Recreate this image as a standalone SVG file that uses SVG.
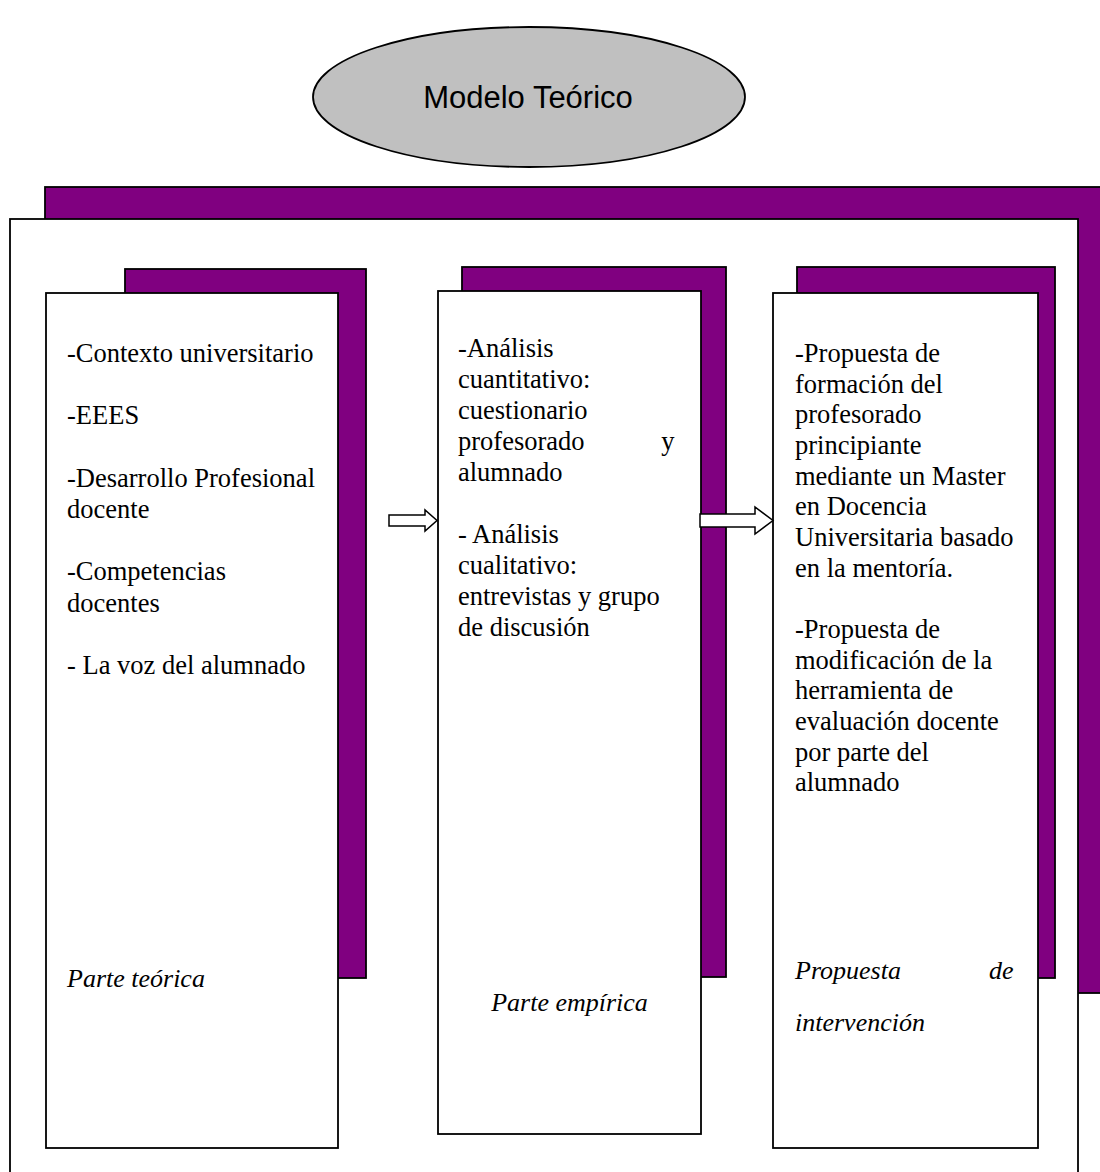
<svg xmlns="http://www.w3.org/2000/svg" width="1100" height="1172" viewBox="0 0 1100 1172">
  <style>
    .shadow { fill: #800080; stroke: #000; stroke-width: 1.8; }
    .card { fill: #fff; stroke: #000; stroke-width: 1.8; }
    .body { font-family: "Liberation Serif", "Times New Roman", serif; font-size: 26.5px; fill: #000; }
    .label { font-family: "Liberation Serif", "Times New Roman", serif; font-size: 26px; font-style: italic; fill: #000; }
    .title { font-family: "Liberation Sans", Arial, sans-serif; font-size: 31px; fill: #000; }
    .arrow { fill: #fff; stroke: #000; stroke-width: 1.5; stroke-linejoin: miter; }
  </style>

  <rect width="1100" height="1172" fill="#fff"/>

  <!-- Title ellipse -->
  <g id="modelo-teorico">
    <ellipse cx="529" cy="97" rx="216" ry="70" fill="#c0c0c0" stroke="#000" stroke-width="1.8"/>
    <text class="title" x="528" y="108" text-anchor="middle">Modelo Teórico</text>
  </g>

  <!-- Outer frame with purple offset backing -->
  <g id="marco">
    <rect class="shadow" x="45" y="187" width="1080" height="806"/>
    <rect class="card" x="10" y="219" width="1068" height="980"/>
  </g>

  <!-- Column 1: theoretical part -->
  <g id="parte-teorica">
    <rect class="shadow" x="125" y="269" width="241" height="709"/>
    <rect class="card" x="46" y="293" width="292" height="855"/>
    <text class="body">
      <tspan x="67" y="362">-Contexto universitario</tspan>
      <tspan x="67" y="424.4">-EEES</tspan>
      <tspan x="67" y="486.8">-Desarrollo Profesional</tspan>
      <tspan x="67" y="518">docente</tspan>
      <tspan x="67" y="580.4">-Competencias</tspan>
      <tspan x="67" y="611.6">docentes</tspan>
      <tspan x="67" y="674">- La voz del alumnado</tspan>
    </text>
    <text class="label" x="67" y="987">Parte teórica</text>
  </g>

  <!-- Column 2: empirical part -->
  <g id="parte-empirica">
    <rect class="shadow" x="462" y="267" width="264" height="710"/>
    <rect class="card" x="438" y="291" width="263" height="843"/>
    <text class="body">
      <tspan x="458" y="357">-Análisis</tspan>
      <tspan x="458" y="388">cuantitativo:</tspan>
      <tspan x="458" y="419">cuestionario</tspan>
      <tspan x="458" y="450">profesorado</tspan>
      <tspan x="681" y="450" text-anchor="end">y</tspan>
      <tspan x="458" y="481">alumnado</tspan>
      <tspan x="458" y="543">- Análisis</tspan>
      <tspan x="458" y="574">cualitativo:</tspan>
      <tspan x="458" y="605">entrevistas y grupo</tspan>
      <tspan x="458" y="636">de discusión</tspan>
    </text>
    <text class="label" x="569.5" y="1011" text-anchor="middle">Parte empírica</text>
  </g>

  <!-- Column 3: intervention proposal -->
  <g id="propuesta-intervencion">
    <rect class="shadow" x="797" y="267" width="258" height="711"/>
    <rect class="card" x="773" y="293" width="265" height="855"/>
    <text class="body">
      <tspan x="795" y="362">-Propuesta de</tspan>
      <tspan x="795" y="392.7">formación del</tspan>
      <tspan x="795" y="423.3">profesorado</tspan>
      <tspan x="795" y="454">principiante</tspan>
      <tspan x="795" y="484.6">mediante un Master</tspan>
      <tspan x="795" y="515.3">en Docencia</tspan>
      <tspan x="795" y="546">Universitaria basado</tspan>
      <tspan x="795" y="576.6">en la mentoría.</tspan>
      <tspan x="795" y="638">-Propuesta de</tspan>
      <tspan x="795" y="668.6">modificación de la</tspan>
      <tspan x="795" y="699.3">herramienta de</tspan>
      <tspan x="795" y="730">evaluación docente</tspan>
      <tspan x="795" y="760.6">por parte del</tspan>
      <tspan x="795" y="791.3">alumnado</tspan>
    </text>
    <text class="label">
      <tspan x="795" y="979">Propuesta</tspan>
      <tspan x="1020" y="979" text-anchor="end">de</tspan>
      <tspan x="795" y="1031">intervención</tspan>
    </text>
  </g>

  <!-- Block arrows between columns -->
  <g id="conectores">
    <polygon class="arrow" points="389,515 425,515 425,510 437,520.5 425,531 425,526 389,526"/>
    <polygon class="arrow" points="700,514 755,514 755,507 773,520.5 755,534 755,527 700,527"/>
  </g>
</svg>
